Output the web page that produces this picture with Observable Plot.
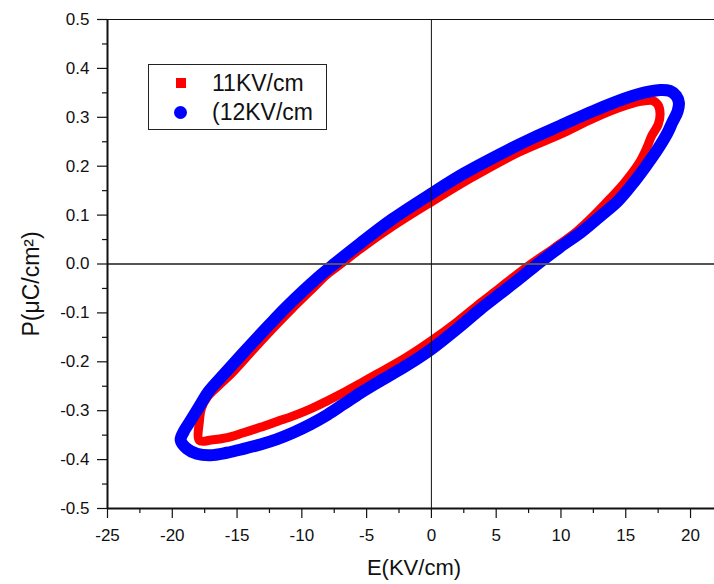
<!DOCTYPE html>
<html>
<head>
<meta charset="utf-8">
<script src="https://cdn.jsdelivr.net/npm/d3@7"></script>
<script src="https://cdn.jsdelivr.net/npm/@observablehq/plot@0.6"></script>
<style>
  html, body { margin: 0; padding: 0; background: #fff; }
  #wrap { position: relative; width: 714px; height: 584px; font-family: "Liberation Sans", Arial, sans-serif; }
  #legend { position: absolute; left: 148px; top: 64px; width: 177px; height: 64px; border: 1px solid #222; background: #fff; }
  #legend .sym { position: absolute; }
  #legend .lab { position: absolute; left: 63px; font-size: 23px; line-height: 23px; color: #111; white-space: nowrap; }
</style>
</head>
<body>
<div id="wrap"></div>
<script>
// ---- data (E in KV/cm, P in µC/cm²) ----
const seriesNames = ["11KV/cm", "(12KV/cm"];
const seriesColors = ["#ff0000", "#0000ff"];

// 11 KV/cm loop (red)
const e11 = [-17.9, -17.9, -17.75, -17.3, -16.4, -15.4, -14.3, -13.2, -12.0, -10.75, -9.4, -8.05, -7.0, -5.48, -3.0, 0, 3.0, 6.7, 10.0, 12.5, 15.1, 16.3, 17.1, 17.5, 17.65, 17.5, 17.0, 16.6, 16.0, 14.9, 13.7, 12.5, 11.2, 9.5, 7.7, 6.2, 4.8, 3.78, 2.0, 0, -2.0, -4.19, -5.48, -6.8, -8.05, -9.3, -10.6, -11.9, -13.2, -14.5, -15.76, -17.0];
const p11 = [-0.361, -0.32, -0.295, -0.272, -0.248, -0.223, -0.191, -0.159, -0.125, -0.091, -0.056, -0.021, 0.0, 0.031, 0.077, 0.127, 0.175, 0.228, 0.266, 0.298, 0.325, 0.333, 0.334, 0.325, 0.307, 0.285, 0.262, 0.236, 0.205, 0.166, 0.131, 0.098, 0.066, 0.033, 0.0, -0.03, -0.059, -0.08, -0.118, -0.157, -0.192, -0.225, -0.244, -0.263, -0.28, -0.296, -0.31, -0.322, -0.334, -0.345, -0.355, -0.36];

// 12 KV/cm loop (blue)
const e12 = [-19.35, -19.1, -18.7, -17.95, -17.2, -16.0, -14.8, -13.7, -12.5, -11.27, -9.9, -8.56, -7.5, -5.5, -3.0, 0, 2.5, 5.84, 8.0, 9.95, 12.5, 15.1, 16.5, 17.7, 18.4, 18.9, 19.1, 19.0, 18.6, 18.2, 17.4, 16.5, 15.5, 14.4, 13.0, 11.6, 9.9, 8.2, 6.8, 5.3, 3.8, 2.0, 0, -2.0, -4.2, -5.5, -6.8, -8.0, -9.34, -10.6, -11.9, -13.2, -14.5, -15.8, -17.05, -18.1, -18.85];
const p12 = [-0.36, -0.342, -0.325, -0.293, -0.261, -0.225, -0.19, -0.158, -0.124, -0.09, -0.055, -0.023, 0.0, 0.042, 0.092, 0.144, 0.185, 0.232, 0.26, 0.283, 0.313, 0.34, 0.351, 0.356, 0.354, 0.344, 0.33, 0.312, 0.29, 0.267, 0.232, 0.198, 0.163, 0.129, 0.097, 0.066, 0.034, 0.0, -0.03, -0.061, -0.092, -0.132, -0.174, -0.209, -0.243, -0.264, -0.287, -0.308, -0.328, -0.344, -0.358, -0.369, -0.378, -0.386, -0.391, -0.388, -0.378];

// axes
const xDomain = [-25, 21.85];
const yDomain = [-0.5, 0.5];
const xTicks = [-25, -20, -15, -10, -5, 0, 5, 10, 15, 20];
const xMinor = [-22.5, -17.5, -12.5, -7.5, -2.5, 2.5, 7.5, 12.5, 17.5];
const yTicks = [-0.5, -0.4, -0.3, -0.2, -0.1, 0.0, 0.1, 0.2, 0.3, 0.4, 0.5];
const yMinor = [-0.45, -0.35, -0.25, -0.15, -0.05, 0.05, 0.15, 0.25, 0.35, 0.45];
const xLabel = "E(KV/cm)";
const yLabel = "P(\u03bcC/cm\u00b2)";

const red = e11.map((e, i) => ({E: e, P: p11[i]}));
const blue = e12.map((e, i) => ({E: e, P: p12[i]}));

const chart = Plot.plot({
  width: 714,
  height: 584,
  marginLeft: 107,
  marginRight: 0,
  marginTop: 19,
  marginBottom: 76,
  style: {fontFamily: "'Liberation Sans', Arial, sans-serif", background: "#fff", color: "#111"},
  x: {domain: xDomain},
  y: {domain: yDomain},
  marks: [
    Plot.line(red, {x: "E", y: "P", curve: "catmull-rom-closed", stroke: seriesColors[0], strokeWidth: 9, strokeLinejoin: "miter", strokeMiterlimit: 3}),
    Plot.line(blue, {x: "E", y: "P", curve: "catmull-rom-closed", stroke: seriesColors[1], strokeWidth: 12, strokeLinejoin: "round"}),
    Plot.ruleY([0], {stroke: "#555", strokeWidth: 2}),
    Plot.ruleX([0], {stroke: "#111", strokeWidth: 1}),
    Plot.ruleX([xDomain[0]], {stroke: "#111", strokeWidth: 2}),
    Plot.ruleY([yDomain[0]], {stroke: "#111", strokeWidth: 2}),
    Plot.ruleY([yDomain[1]], {stroke: "#111", strokeWidth: 1}),
    Plot.axisY(yTicks, {tickSize: 10, tickPadding: 8, strokeWidth: 1.2, tickFormat: d => d.toFixed(1), label: null, fontSize: 17}),
    Plot.axisY(yMinor, {tickSize: 5, strokeWidth: 1.2, tickFormat: () => "", label: null}),
    Plot.axisX(xTicks, {tickSize: 10, tickPadding: 10, strokeWidth: 1.2, tickFormat: d => String(d), label: null, fontSize: 17}),
    Plot.axisX(xMinor, {tickSize: 5, strokeWidth: 1.2, tickFormat: () => "", label: null}),
    Plot.text([xLabel], {frameAnchor: "bottom", textAnchor: "middle", dy: 66, dx: 3, fontSize: 22, fill: "#111"}),
    Plot.text([yLabel], {frameAnchor: "left", textAnchor: "middle", lineAnchor: "middle", rotate: -90, dx: -76, dy: 20, fontSize: 23, fill: "#111"})
  ]
});

const wrap = document.getElementById("wrap");
wrap.appendChild(chart);

// legend (HTML overlay)
const legend = document.createElement("div");
legend.id = "legend";
legend.innerHTML =
  `<div class="sym" style="left:27px;top:13px;width:10px;height:10px;background:${seriesColors[0]}"></div>` +
  `<div class="lab" style="top:7px">${seriesNames[0]}</div>` +
  `<div class="sym" style="left:25px;top:41px;width:13px;height:13px;border-radius:50%;background:${seriesColors[1]}"></div>` +
  `<div class="lab" style="top:36px">${seriesNames[1]}</div>`;
wrap.appendChild(legend);
</script>
</body>
</html>
